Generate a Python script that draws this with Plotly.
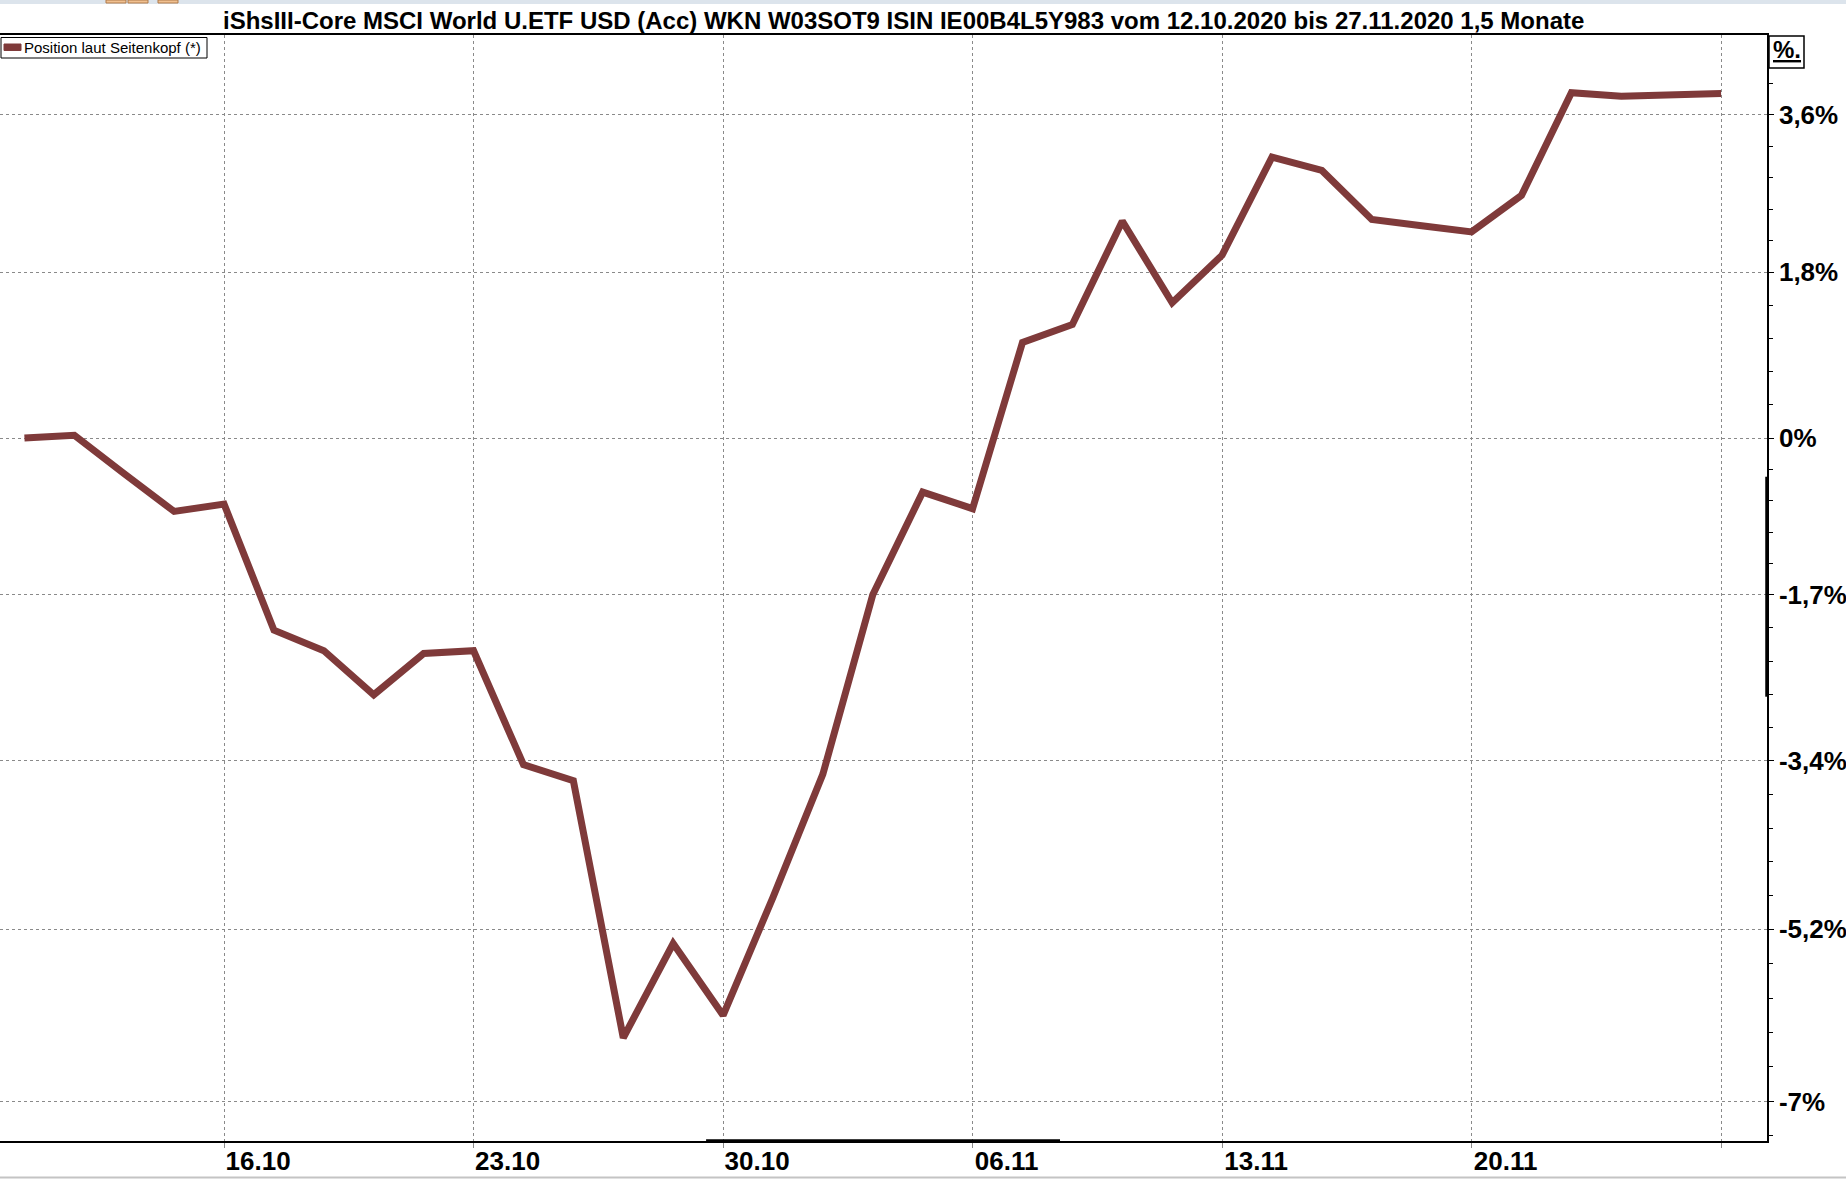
import plotly.graph_objects as go

# ---------------- data ----------------
dates = ["12.10", "13.10", "14.10", "15.10", "16.10", "19.10", "20.10", "21.10", "22.10", "23.10",
         "26.10", "27.10", "28.10", "29.10", "30.10", "02.11", "03.11", "04.11", "05.11", "06.11",
         "09.11", "10.11", "11.11", "12.11", "13.11", "16.11", "17.11", "18.11", "19.11", "20.11",
         "23.11", "24.11", "25.11", "26.11", "27.11"]
pct_change = [0.00, 0.03, -0.39, -0.80, -0.72, -2.08, -2.30, -2.77, -2.33, -2.30,
              -3.51, -3.68, -6.35, -5.38, -6.12, -4.90, -3.61, -1.70, -0.59, -0.77,
              1.05, 1.25, 2.40, 1.49, 2.02, 3.12, 2.97, 2.42, 2.35, 2.28,
              2.69, 3.85, 3.81, 3.83, 3.84]
series_name = "Position laut Seitenkopf (*)"

x_tick_dates = ["16.10", "23.10", "30.10", "06.11", "13.11", "20.11", "27.11"]
x_tick_labels = ["16.10", "23.10", "30.10", "06.11", "13.11", "20.11", ""]

y_tick_pct = [3.60, 1.83, 0.0, -1.70, -3.47, -5.23, -7.00]
y_tick_labels = ["3,6%", "1,8%", "0%", "-1,7%", "-3,4%", "-5,2%", "-7%"]

title_text = ("iShsIII-Core MSCI World U.ETF USD (Acc) WKN W03SOT9 ISIN IE00B4L5Y983 "
              "vom 12.10.2020 bis 27.11.2020 1,5 Monate")

# ---------------- helpers ----------------
FONT = "Liberation Sans, Arial, sans-serif"
LINE_COLOR = "#7f3a3a"
GRID_COLOR = "#8a8a8a"

y_vals = [1 + p / 100 for p in pct_change]
major = [1 + p / 100 for p in y_tick_pct]

# minor ticks: 4 between each pair of majors (geometric), plus one step beyond the ends
minor = []
for a, b in zip(major[:-1], major[1:]):
    r = (b / a) ** (1 / 5)
    minor += [a * r ** k for k in range(1, 5)]
minor.append(major[-1] * (major[-1] / major[-2]) ** (1 / 5))
minor.insert(0, major[0] * (major[0] / major[1]) ** (1 / 5))

fig = go.Figure()
fig.add_trace(go.Scatter(
    x=dates, y=y_vals, mode="lines", name=series_name,
    line=dict(color=LINE_COLOR, width=7),
    showlegend=False,
))

W, H = 1846, 1179
ML, MR, MT, MB = 0, 79, 35, 38
PW, PH = W - ML - MR, H - MT - MB


def px(X):
    return (X - ML) / PW


def py(Y):
    return (H - MB - Y) / PH


fig.update_layout(
    width=W, height=H,
    margin=dict(l=ML, r=MR, t=MT, b=MB, pad=0),
    paper_bgcolor="white", plot_bgcolor="white",
    font=dict(family=FONT, color="black"),
    showlegend=False,
)

fig.update_xaxes(
    type="category", categoryorder="array", categoryarray=dates,
    range=[-0.49, 34.92],
    tickmode="array", tickvals=x_tick_dates, ticktext=x_tick_labels,
    showgrid=True, gridcolor=GRID_COLOR, gridwidth=1, griddash="3px,3px",
    showline=True, linecolor="black", linewidth=1.5, mirror=True,
    ticks="outside", ticklen=5, tickcolor=GRID_COLOR,
    tickfont=dict(family=FONT, size=26, color="black", weight="bold"),
    ticklabelshift=34, ticklabelstandoff=-9,
    zeroline=False,
)

fig.update_yaxes(
    type="log", side="right",
    range=[-0.033396, 0.019145],
    tickmode="array", tickvals=major, ticktext=y_tick_labels,
    showgrid=True, gridcolor=GRID_COLOR, gridwidth=1, griddash="3px,3px",
    showline=True, linecolor="black", linewidth=1.5, mirror=False,
    ticks="outside", ticklen=5, tickcolor="black",
    minor=dict(tickmode="array", tickvals=minor, ticks="outside", ticklen=4,
               tickcolor="black", showgrid=False),
    tickfont=dict(family=FONT, size=26, color="black", weight="bold"),
    zeroline=False,
)

shapes = []
annotations = []

# title
annotations.append(dict(
    xref="paper", yref="paper", x=px(903), y=py(21), xanchor="center", yanchor="middle",
    text="<b>" + title_text + "</b>", showarrow=False,
    font=dict(family=FONT, size=24, color="black"),
))

# legend box
shapes.append(dict(type="rect", xref="paper", yref="paper",
                   x0=px(1), x1=px(207), y0=py(37.5), y1=py(58),
                   line=dict(color="black", width=1), fillcolor="white", layer="above"))
shapes.append(dict(type="rect", xref="paper", yref="paper",
                   x0=px(4), x1=px(21), y0=py(44), y1=py(50.5),
                   line=dict(color=LINE_COLOR, width=1), fillcolor=LINE_COLOR, layer="above"))
annotations.append(dict(
    xref="paper", yref="paper", x=px(22), y=py(47.5), xanchor="left", yanchor="middle",
    text=series_name, showarrow=False,
    font=dict(family=FONT, size=15, color="black"),
))

# "%." box
shapes.append(dict(type="rect", xref="paper", yref="paper",
                   x0=px(1769), x1=px(1804), y0=py(36), y1=py(68),
                   line=dict(color="black", width=1.5), fillcolor="white"))
annotations.append(dict(
    xref="paper", yref="paper", x=px(1786.5), y=py(50), xanchor="center", yanchor="middle",
    text="<b><u>%.</u></b>", showarrow=False,
    font=dict(family=FONT, size=24, color="black"),
))

# thick range markers on the axes
shapes.append(dict(type="line", xref="paper", yref="paper",
                   x0=0.3996, x1=0.5999, y0=0, y1=0,
                   line=dict(color="black", width=3.5)))
shapes.append(dict(type="line", xref="paper", yref="paper",
                   x0=1, x1=1, y0=0.4017, y1=0.6006,
                   line=dict(color="black", width=3.5)))

# window chrome: top band and bottom rule
shapes.append(dict(type="rect", xref="paper", yref="paper",
                   x0=px(0), x1=px(W), y0=py(0), y1=py(4),
                   line=dict(width=0), fillcolor="#dce4ec"))
for xa, xb in [(106, 126), (128, 148), (158, 178)]:
    shapes.append(dict(type="rect", xref="paper", yref="paper",
                       x0=px(xa), x1=px(xb), y0=py(0), y1=py(3),
                       line=dict(color="#b07a4a", width=1), fillcolor="#f0c090"))
shapes.append(dict(type="line", xref="paper", yref="paper",
                   x0=px(0), x1=px(W), y0=py(1177.5), y1=py(1177.5),
                   line=dict(color="#c4c4c4", width=2)))

fig.update_layout(shapes=shapes, annotations=annotations)

fig.write_html(
    "out.html",
    config={"displayModeBar": False},
    post_script="document.body.style.margin='0';document.body.style.overflow='hidden';",
)
